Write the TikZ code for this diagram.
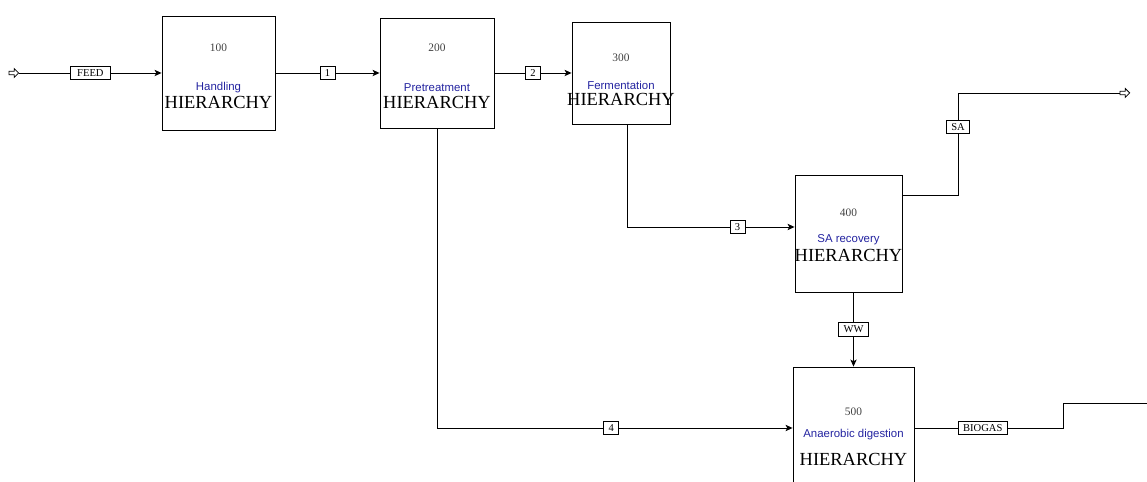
\documentclass[tikz,border=0pt]{standalone}
\usepackage{fontspec}
\setmainfont{Liberation Serif}
\setsansfont{Liberation Sans}
\usetikzlibrary{positioning,shapes.arrows,arrows.meta}
\definecolor{unitblue}{RGB}{35,35,160}

\begin{document}
\begin{tikzpicture}[x=0.02cm, y=-0.02cm, >={Stealth[length=4pt,width=3.6pt,inset=1pt]},
    unit/.style={draw, line width=0.5pt, inner sep=0pt},
    tag/.style={draw, fill=white, line width=0.4pt, font=\fontsize{6}{7}\selectfont, inner xsep=2.8pt, inner ysep=1.8pt},
    port/.style={single arrow, draw, line width=0.45pt, fill=white, inner sep=0.6pt, minimum height=5.5pt, minimum width=5pt, single arrow head extend=1.3pt},
    stream/.style={line width=0.5pt}]
  \useasboundingbox (0,0) rectangle (1147,482);
  \clip (0,0) rectangle (1147,482);
  \foreach \u/\cx/\cy/\w/\h/\txt/\da/\db/\dc in {
      100/218.5/73/113/114/Handling/-25/15/29,
      200/437/73/114/110/Pretreatment/-25/15/29,
      300/621/73/98/102/Fermentation/-15/12/26,
      400/848.5/233.5/107/117/SA recovery/-20.5/6.5/21.5,
      500/853.5/428/121/122/Anaerobic digestion/-16/7/31}
  {
    \node[unit, minimum width=\w*0.02cm, minimum height=\h*0.02cm] (u\u) at (\cx,\cy) {};
    \node[font=\fontsize{6.5}{7}\selectfont, text=black!75] (n\u) at ({\cx},{\cy+(\da)}) {\u};
    \node[font=\sffamily\fontsize{6.5}{7}\selectfont, text=unitblue] (t\u) at ({\cx},{\cy+(\db)}) {\txt};
    \node[font=\fontsize{10.5}{12}\selectfont] (h\u) at ({\cx},{\cy+(\dc)}) {HIERARCHY};
  }
  \node[port] (feed) at (13,73) {};
  \node[port] (saout) at (1124,93) {};
  \coordinate (b3) at (627,227);
  \coordinate (b5) at (958,195);
  \coordinate (b7) at (1063,428);
  \coordinate (gasout) at (1147,403);
  \draw[stream,->] (feed.east) -- node[tag, inner xsep=4pt] {FEED} (u100.west);
  \draw[stream,->] (u100.east) -- node[tag] {1} (u200.west);
  \draw[stream,->] (u200.east) -- node[tag] {2} (u300.west);
  \draw[stream,->] (b3 |- u300.south) -- (b3) -- node[tag, pos=0.66] {3} (b3 -| u400.west);
  \draw[stream,->] (u200.south) |- node[tag, pos=0.745] {4} (u500.west);
  \draw[stream] (u400.east |- b5) -- (b5) -- node[tag, pos=0.67] {SA} (b5 |- saout) -- (saout.west);
  \draw[stream,->] (u400.south -| u500.north) -- node[tag] {WW} (u500.north);
  \draw[stream] (u500.east) -- node[tag, pos=0.46] {BIOGAS} (b7) |- (gasout);
\end{tikzpicture}
\end{document}
